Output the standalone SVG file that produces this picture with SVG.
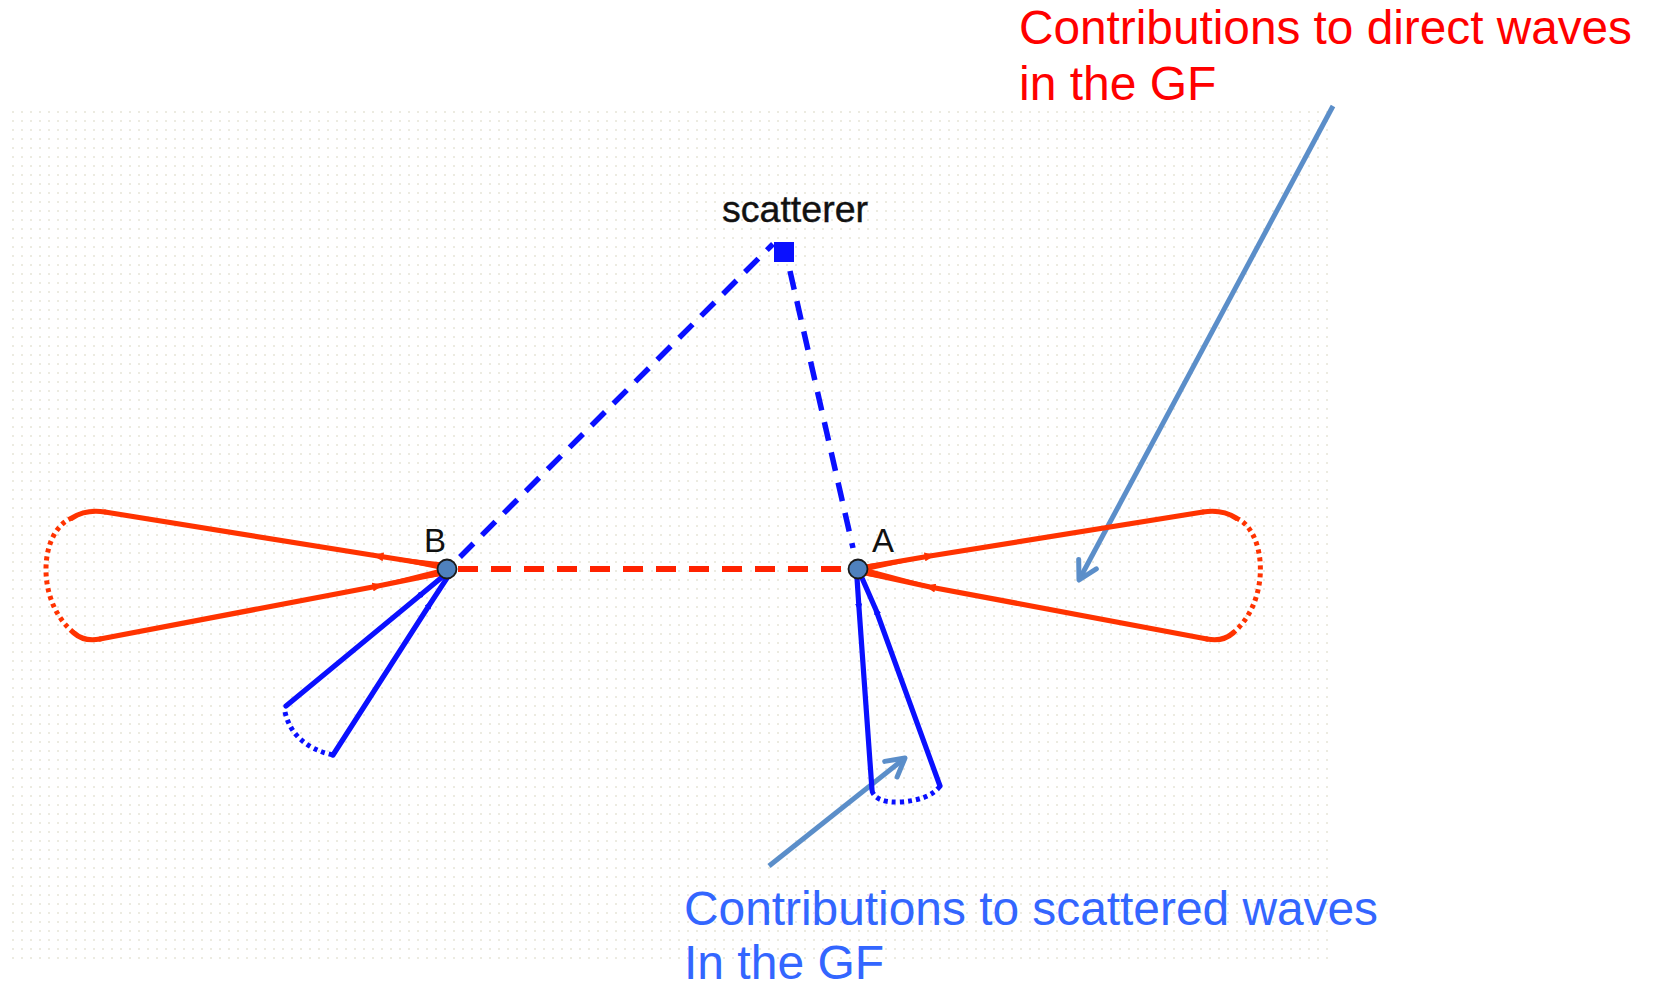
<svg xmlns="http://www.w3.org/2000/svg" width="1656" height="988" viewBox="0 0 1656 988">
<defs>
<pattern id="dots" width="9" height="9" patternUnits="userSpaceOnUse">
<rect x="3" y="3" width="2" height="2" fill="#ecebe1"/>
</pattern>
<marker id="chev" markerUnits="userSpaceOnUse" viewBox="0 0 26 26" markerWidth="26" markerHeight="26" refX="22" refY="13" orient="auto">
<path d="M4,3 L22,13 L4,23" fill="none" stroke="#5b8ec9" stroke-width="5" stroke-linecap="round" stroke-linejoin="round"/>
</marker>
<marker id="rmark" markerUnits="userSpaceOnUse" viewBox="0 0 12 10" markerWidth="11" markerHeight="9" refX="6" refY="5" orient="auto">
<path d="M0,0 L12,5 L0,10 z" fill="#ff3300"/>
</marker>
<marker id="bmark" markerUnits="userSpaceOnUse" viewBox="0 0 10 8" markerWidth="9" markerHeight="7" refX="5" refY="4" orient="auto">
<path d="M0,0 L10,4 L0,8 z" fill="#0a10ff"/>
</marker>
</defs>
<style>
.txt{font-family:"Liberation Sans",Arial,Helvetica,sans-serif}
.red{fill:none;stroke:#ff3300;stroke-width:5.2;stroke-linecap:round;stroke-linejoin:round}
.redw{fill:#ff3300;stroke:none}
.reddot{fill:none;stroke:#ff3300;stroke-width:5;stroke-dasharray:4 4}
.blue{fill:none;stroke:#0a10ff;stroke-width:5.2;stroke-linecap:round;stroke-linejoin:round}
.bluedot{fill:none;stroke:#0a10ff;stroke-width:5;stroke-dasharray:4 4}
.bdash{fill:none;stroke:#0a10ff;stroke-width:5.5;stroke-dasharray:19 12}
.rdash{fill:none;stroke:#ff2200;stroke-width:6;stroke-dasharray:20 13}
.steel{fill:none;stroke:#5b8ec9;stroke-width:5;marker-end:url(#chev)}
.node{fill:#4f81bd;stroke:#1a1a1a;stroke-width:1.8}
</style>
<rect x="10" y="105" width="1320" height="860" fill="url(#dots)"/>

<g id="connectors">
<path class="rdash" d="M458,569 L842,569"/>
<path class="bdash" d="M460,557 L773,244"/>
<path class="bdash" d="M790,271 L853,548"/>
<path class="steel" d="M1333,106 L1079,580"/>
<path class="steel" d="M769,866 L905,758"/>
</g>

<g id="lobe-B-red">
<path class="red" d="M447,567 L378,556 L105,512" marker-mid="url(#rmark)"/>
<polygon class="redw" points="360,553 447,563 447,571"/>
<path class="red" d="M105,512 Q86,509 72,518"/>
<path class="reddot" d="M72,518 C40,530 34,600 74,633"/>
<path class="red" d="M74,633 Q84,642 100,639"/>
<path class="red" d="M100,639 L378,586 L447,572" marker-mid="url(#rmark)"/>
<polygon class="redw" points="360,589 447,567 447,575"/>
</g>

<g id="lobe-A-red">
<path class="red" d="M866,567 L930,556 L1203,512" marker-mid="url(#rmark)"/>
<polygon class="redw" points="948,553 862,565 862,572"/>
<path class="red" d="M1203,512 Q1222,509 1236,518"/>
<path class="reddot" d="M1236,518 C1266,530 1272,600 1233,633"/>
<path class="red" d="M1233,633 Q1223,642 1207,639"/>
<path class="red" d="M1207,639 L930,587 L866,573" marker-mid="url(#rmark)"/>
<polygon class="redw" points="948,590 862,567 862,575"/>
</g>

<g id="lobe-B-blue">
<path class="blue" d="M441,578 L418,597 L286,706" marker-mid="url(#bmark)"/>
<path class="bluedot" d="M285,712 Q293,746 333,755"/>
<path class="blue" d="M333,755 L430,604 L447,578" marker-mid="url(#bmark)"/>
</g>

<g id="lobe-A-blue">
<path class="blue" d="M857,578 L859,608 L872,790" marker-mid="url(#bmark)"/>
<path class="bluedot" d="M872,791 Q876,803 900,802 Q930,800 940,786"/>
<path class="blue" d="M940,786 L876,610 L862,578" marker-mid="url(#bmark)"/>
</g>

<g id="node-scatterer">
<rect x="774" y="242" width="20" height="20" fill="#0a10ff"/>
<text class="txt" x="722" y="222" font-size="36" fill="#111" stroke="#111" stroke-width="0.4" textLength="146" lengthAdjust="spacingAndGlyphs">scatterer</text>
</g>

<g id="node-B">
<circle class="node" cx="447" cy="569" r="9.5"/>
<text class="txt" x="424" y="552" font-size="33" fill="#111">B</text>
</g>

<g id="node-A">
<circle class="node" cx="858" cy="569" r="9.5"/>
<text class="txt" x="872" y="552" font-size="33" fill="#111">A</text>
</g>

<g id="label-direct">
<text class="txt" x="1019" y="44" font-size="48" fill="#ff0000" textLength="613" lengthAdjust="spacingAndGlyphs">Contributions to direct waves</text>
<text class="txt" x="1019" y="100" font-size="48" fill="#ff0000">in the GF</text>
</g>

<g id="label-scattered">
<text class="txt" x="684" y="925" font-size="48" fill="#3366ff" textLength="694" lengthAdjust="spacingAndGlyphs">Contributions to scattered waves</text>
<text class="txt" x="684" y="979" font-size="48" fill="#3366ff">In the GF</text>
</g>
</svg>
